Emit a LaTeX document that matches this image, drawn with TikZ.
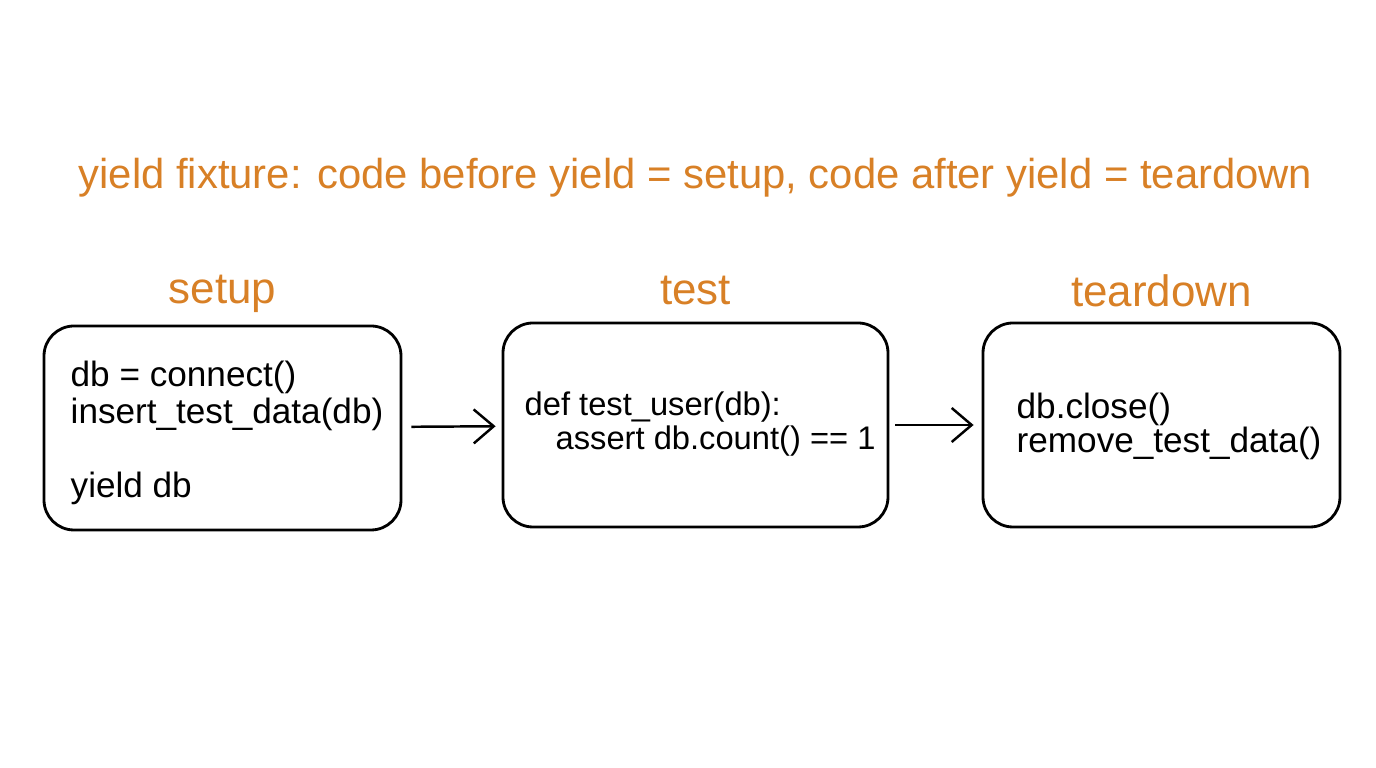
\documentclass[tikz,border=0pt]{standalone}
\usepackage{fontspec}
\setmainfont{Liberation Sans}
\usepackage{tikz}
\usetikzlibrary{arrows.meta}
\definecolor{fixorange}{RGB}{216,128,38}

\begin{document}
\begin{tikzpicture}[node distance={13.4mm},
    stage/.style = {draw, line width=0.8pt, rounded corners=3mm, inner sep=0pt},
    lbl/.style = {text=fixorange, font=\fontsize{12.5}{14}\selectfont},
    code/.style = {anchor=west, align=left, inner sep=0pt, font=\fontsize{10}{10.5}\selectfont}]
            \useasboundingbox (0,0) rectangle (13.76,7.68);

            \node[lbl, font=\fontsize{11.9}{13}\selectfont] (title) at (6.955,5.90) {yield fixture: code before yield = setup, code after yield = teardown};

            \node[stage, minimum width=3.57cm, minimum height=2.04cm] (setup) at (2.225,3.40) {};
            \node[stage, minimum width=3.85cm, minimum height=2.04cm] (test) at (6.955,3.43) {};
            \node[stage, minimum width=3.57cm, minimum height=2.04cm] (teardown) at (11.615,3.43) {};

            \node[lbl] (setuplbl) [above of=setup] {setup};
            \node[lbl] (testlbl) [above of=test] {test};
            \node[lbl] (teardownlbl) [above of=teardown] {teardown};

            \node[code] (setupcode) at (0.70,3.35) {db = connect()\\ insert\_test\_data(db)\\[10.5pt] yield db};
            \node[code, font=\fontsize{9.3}{9.7}\selectfont] (testcode) at (5.24,3.44) {def test\_user(db):\\ \hspace*{0.31cm}assert db.count() == 1};
            \node[code, font=\fontsize{10}{9.7}\selectfont] (teardowncode) at (10.16,3.42) {db.close()\\ remove\_test\_data()};

            \path[-{Straight Barb[length=2mm,width=3.4mm]}, line width=0.7pt, shorten <=0.9mm, shorten >=0.6mm] (setup) edge (test);
            \path[-{Straight Barb[length=2mm,width=3.4mm]}, line width=0.7pt, shorten <=0.6mm, shorten >=0.8mm] (test) edge (teardown);
        \end{tikzpicture}
\end{document}
